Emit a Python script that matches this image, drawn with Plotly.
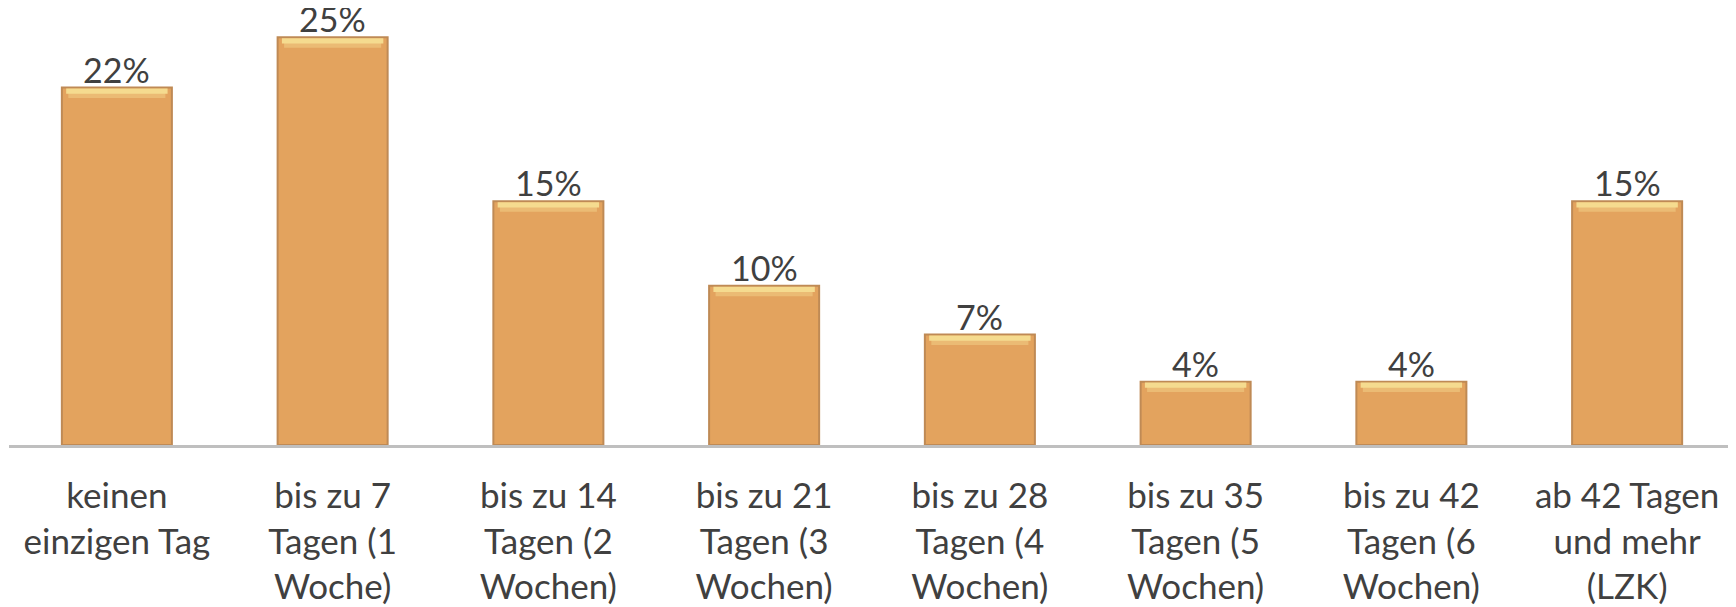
import plotly.graph_objects as go

# categories (x-axis tick labels, line breaks as in the original)
categories = [
    "keinen<br>einzigen Tag",
    "bis zu 7<br>Tagen (1<br>Woche)",
    "bis zu 14<br>Tagen (2<br>Wochen)",
    "bis zu 21<br>Tagen (3<br>Wochen)",
    "bis zu 28<br>Tagen (4<br>Wochen)",
    "bis zu 35<br>Tagen (5<br>Wochen)",
    "bis zu 42<br>Tagen (6<br>Wochen)",
    "ab 42 Tagen<br>und mehr<br>(LZK)",
]

# share in percent
shares = [22.0, 25.1, 15.0, 9.8, 6.8, 3.9, 3.9, 15.0]

# labels shown above the bars
labels = ["22%", "25%", "15%", "10%", "7%", "4%", "4%", "15%"]

fig = go.Figure()

# main bars
fig.add_trace(go.Bar(
    x=categories,
    y=shares,
    width=0.51,
    marker=dict(color="#E3A35E", line=dict(color="#BF8A55", width=2)),
    hoverinfo="y",
))

# light bevel at the top of each bar (two thin bands just below the top edge)
band = 0.32
fig.add_trace(go.Bar(
    x=categories,
    y=[band] * len(shares),
    base=[s - 2 * band for s in shares],
    width=0.45,
    marker=dict(color="#EBBB74", line=dict(width=0)),
    hoverinfo="skip",
))
fig.add_trace(go.Bar(
    x=categories,
    y=[band] * len(shares),
    base=[s - band - 0.06 for s in shares],
    width=0.47,
    marker=dict(color="#F5DB8F", line=dict(width=0)),
    hoverinfo="skip",
))

# value labels above the bars
for cat, s, lab in zip(categories, shares, labels):
    fig.add_annotation(
        x=cat, y=s, text=lab,
        showarrow=False,
        yanchor="bottom",
        yshift=-4,
        font=dict(family="Lato", size=34, color="#404040"),
    )

# the page body adds an 8px margin, so the figure is a bit smaller than the window
fig.update_layout(
    width=1728,
    height=599,
    margin=dict(l=1, r=1, t=0, b=162, autoexpand=False),
    paper_bgcolor="white",
    plot_bgcolor="white",
    showlegend=False,
    barmode="overlay",
    font=dict(family="Lato", color="#404040"),
)

fig.update_xaxes(
    automargin=False,
    showline=True,
    linecolor="#BFBFBF",
    linewidth=3,
    ticks="",
    tickfont=dict(family="Lato", size=35, color="#404040"),
    ticklabelstandoff=18,
    showgrid=False,
)

fig.update_yaxes(
    range=[0, 26.9],
    visible=False,
    showgrid=False,
    zeroline=False,
)

fig.write_html("out.html")
